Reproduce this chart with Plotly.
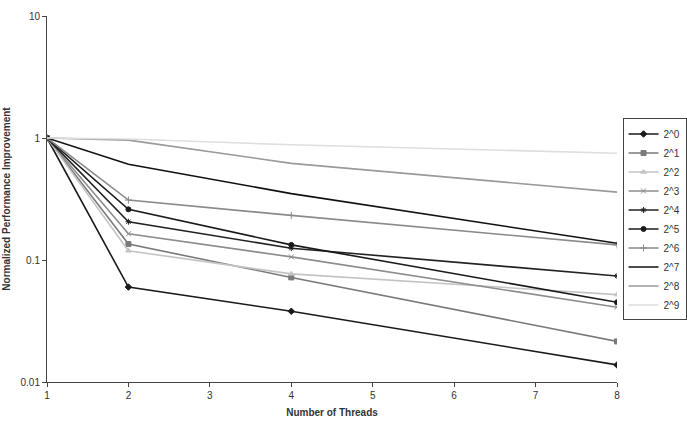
import plotly.graph_objects as go

threads = [1, 2, 4, 8]
series_names = ["2^0", "2^1", "2^2", "2^3", "2^4", "2^5", "2^6", "2^7", "2^8", "2^9"]
s_2_0 = [1, 0.060, 0.038, 0.0138]
s_2_1 = [1, 0.135, 0.072, 0.0215]
s_2_2 = [1, 0.119, 0.077, 0.052]
s_2_3 = [1, 0.164, 0.106, 0.041]
s_2_4 = [1, 0.206, 0.125, 0.074]
s_2_5 = [1, 0.26, 0.133, 0.045]
s_2_6 = [1, 0.31, 0.232, 0.133]
s_2_7 = [1, 0.61, 0.35, 0.137]
s_2_8 = [1, 0.96, 0.62, 0.36]
s_2_9 = [1, 0.98, 0.88, 0.75]
values = [s_2_0, s_2_1, s_2_2, s_2_3, s_2_4, s_2_5, s_2_6, s_2_7, s_2_8, s_2_9]

colors = ["#1a1a1a", "#7a7a7a", "#c4c4c4", "#8c8c8c", "#222222",
          "#1a1a1a", "#8a8a8a", "#111111", "#9a9a9a", "#dedede"]
symbols = ["diamond", "square", "triangle-up", "x-thin", "asterisk",
           "circle", "cross-thin", None, None, None]

fig = go.Figure()
for name, vals, c, s in zip(series_names, values, colors, symbols):
    if s is None:
        fig.add_trace(go.Scatter(x=threads, y=vals, name=name, mode="lines",
                                 line=dict(color=c, width=1.6)))
    else:
        fig.add_trace(go.Scatter(x=threads, y=vals, name=name, mode="lines+markers",
                                 line=dict(color=c, width=1.6),
                                 marker=dict(symbol=s, size=5, color=c,
                                             line=dict(color=c, width=1))))

fig.update_layout(
    width=687, height=425,
    margin=dict(l=47, r=70, t=16, b=43, autoexpand=False),
    paper_bgcolor="white", plot_bgcolor="white",
    font=dict(family="Liberation Sans, Arial, sans-serif", size=10, color="#333"),
    legend=dict(x=1.122, y=0.72, xanchor="right", yanchor="top",
                bordercolor="#444", borderwidth=1, bgcolor="white",
                font=dict(size=10), tracegroupgap=0, itemwidth=30),
    showlegend=True,
)
fig.update_xaxes(range=[1, 8], tickvals=[1, 2, 3, 4, 5, 6, 7, 8],
                 showgrid=False, zeroline=False, showline=True,
                 linecolor="#444", linewidth=1, ticks="outside", ticklen=4,
                 tickcolor="#444",
                 title=dict(text="<b>Number of Threads</b>", font=dict(size=10), standoff=8))
fig.update_yaxes(type="log", range=[-2, 1], tickvals=[0.01, 0.1, 1, 10],
                 ticktext=["0.01", "0.1", "1", "10"],
                 showgrid=False, zeroline=False, showline=True,
                 linecolor="#444", linewidth=1, ticks="outside", ticklen=4,
                 tickcolor="#444",
                 title=dict(text="<b>Normalized Performance Improvement</b>",
                            font=dict(size=10), standoff=8))

fig.write_html("out.html")
